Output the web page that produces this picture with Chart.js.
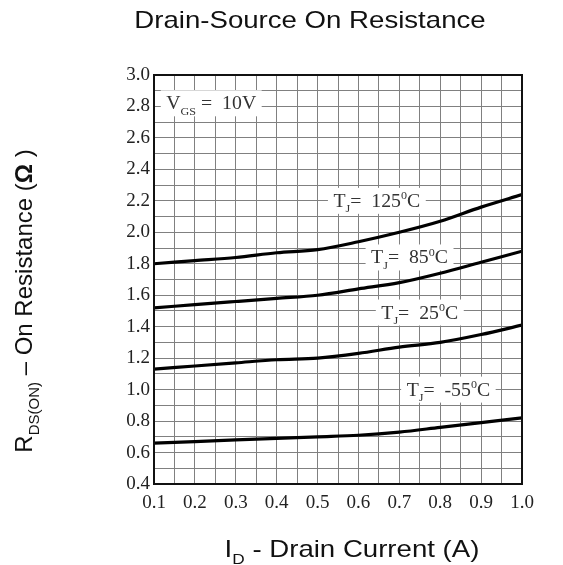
<!DOCTYPE html>
<html>
<head>
<meta charset="utf-8">
<script src="https://cdn.jsdelivr.net/npm/chart.js@4.4.0/dist/chart.umd.min.js"></script>
<style>
    html, body { margin: 0; padding: 0; background: #fff; }
</style>
</head>
<body>
<canvas id="chart" width="563" height="565"></canvas>
<script>
// Drain current (A)
const currents = [0.1, 0.2, 0.3, 0.4, 0.5, 0.6, 0.7, 0.8, 0.9, 1.0];

// On resistance (ohm) for each junction temperature
const rMinus55 = [0.66, 0.67, 0.68, 0.69, 0.70, 0.71, 0.73, 0.76, 0.79, 0.82];
const r25 = [1.13, 1.15, 1.17, 1.19, 1.20, 1.23, 1.27, 1.30, 1.35, 1.41];
const r85 = [1.52, 1.54, 1.56, 1.58, 1.60, 1.64, 1.68, 1.74, 1.81, 1.88];
const r125 = [1.80, 1.82, 1.84, 1.87, 1.89, 1.94, 2.00, 2.07, 2.16, 2.24];

// Tick labels
const xTickLabels = ['0.1', '0.2', '0.3', '0.4', '0.5', '0.6', '0.7', '0.8', '0.9', '1.0'];
const yTickLabels = ['0.4', '0.6', '0.8', '1.0', '1.2', '1.4', '1.6', '1.8', '2.0', '2.2', '2.4', '2.6', '2.8', '3.0'];

// Curve labels (s: -1 subscript, 1 superscript)
const noteParts = [
    [{t: 'V'}, {t: 'GS', s: -1}, {t: ' =  10V'}],
    [{t: 'T'}, {t: 'J', s: -1}, {t: '=  125'}, {t: '0', s: 1}, {t: 'C'}],
    [{t: 'T'}, {t: 'J', s: -1}, {t: '=  85'}, {t: '0', s: 1}, {t: 'C'}],
    [{t: 'T'}, {t: 'J', s: -1}, {t: '=  25'}, {t: '0', s: 1}, {t: 'C'}],
    [{t: 'T'}, {t: 'J', s: -1}, {t: '=  -55'}, {t: '0', s: 1}, {t: 'C'}]
];
// where each label sits, in axis units
const noteX = [0.24, 0.645, 0.725, 0.75, 0.82];
const noteY = [2.82, 2.20, 1.84, 1.49, 1.00];

const serif = '"Liberation Serif", "Times New Roman", serif';
const sans = '"Liberation Sans", Arial, sans-serif';

function richWidth(ctx, parts, size, family) {
    let w = 0;
    parts.forEach(p => {
        const fs = p.s ? Math.round(size * 0.62) : size;
        ctx.font = (p.b ? 'bold ' : '') + fs + 'px ' + family;
        w += ctx.measureText(p.t).width;
    });
    return w;
}

function drawRich(ctx, parts, x, y, size, family) {
    ctx.textBaseline = 'alphabetic';
    ctx.textAlign = 'left';
    parts.forEach(p => {
        const fs = p.s ? Math.round(size * 0.62) : size;
        ctx.font = (p.b ? 'bold ' : '') + fs + 'px ' + family;
        const dy = p.s === -1 ? size * 0.3 : p.s === 1 ? -size * 0.42 : 0;
        ctx.fillText(p.t, x, y + dy);
        x += ctx.measureText(p.t).width;
    });
}

const overlay = {
    id: 'overlay',
    beforeDatasetsDraw(chart) {
        const {ctx, scales: {x, y}} = chart;
        noteParts.forEach((parts, i) => {
            const cx = x.getPixelForValue(noteX[i]);
            const cy = y.getPixelForValue(noteY[i]);
            ctx.save();
            ctx.translate(cx, cy);
            ctx.scale(1.1, 1);
            const w = richWidth(ctx, parts, 18, serif);
            ctx.fillStyle = '#fff';
            ctx.fillRect(-w / 2 - 5, -13, w + 10, 26);
            ctx.fillStyle = '#333';
            drawRich(ctx, parts, -w / 2, 6, 18, serif);
            ctx.restore();
        });
    },
    afterDraw(chart) {
        const {ctx, chartArea: a} = chart;
        ctx.save();
        // frame
        ctx.strokeStyle = '#111';
        ctx.lineWidth = 2;
        ctx.strokeRect(a.left, a.top, a.right - a.left, a.bottom - a.top);

        ctx.fillStyle = '#111';
        // title
        ctx.save();
        ctx.translate(310, 28);
        ctx.scale(1.15, 1);
        ctx.font = '24px ' + sans;
        ctx.textAlign = 'center';
        ctx.textBaseline = 'alphabetic';
        ctx.fillText('Drain-Source On Resistance', 0, 0);
        ctx.restore();

        // x axis title
        const xParts = [{t: 'I'}, {t: 'D', s: -1}, {t: ' - Drain Current (A)'}];
        ctx.save();
        ctx.translate(352, 557);
        ctx.scale(1.15, 1);
        const xw = richWidth(ctx, xParts, 24, sans);
        drawRich(ctx, xParts, -xw / 2, 0, 24, sans);
        ctx.restore();

        // y axis title
        const yParts = [{t: 'R'}, {t: 'DS(ON)', s: -1}, {t: ' \u2013 On Resistance ('}, {t: '\u03A9', b: true}, {t: ' )'}];
        ctx.save();
        ctx.translate(32, 301);
        ctx.rotate(-Math.PI / 2);
        const yw = richWidth(ctx, yParts, 24, sans);
        drawRich(ctx, yParts, -yw / 2, 0, 24, sans);
        ctx.restore();

        ctx.restore();
    }
};

function makeSet(label, data) {
    return {
        label: label,
        data: currents.map((c, i) => ({x: c, y: data[i]})),
        borderColor: '#000',
        borderWidth: 3.2,
        pointRadius: 0,
        fill: false,
        cubicInterpolationMode: 'monotone'
    };
}

new Chart(document.getElementById('chart'), {
    type: 'line',
    data: {
        datasets: [
            makeSet('TJ = 125°C', r125),
            makeSet('TJ = 85°C', r85),
            makeSet('TJ = 25°C', r25),
            makeSet('TJ = -55°C', rMinus55)
        ]
    },
    options: {
        responsive: false,
        animation: false,
        layout: {padding: {left: 0, right: 41, top: 75, bottom: 0}},
        plugins: {
            legend: {display: false},
            tooltip: {enabled: false}
        },
        scales: {
            x: {
                type: 'linear',
                min: 0.1,
                max: 1.0,
                afterBuildTicks: scale => {
                    scale.ticks = [];
                    for (let k = 2; k <= 20; k++) scale.ticks.push({value: k * 0.05});
                },
                afterFit: scale => { scale.height = 81; },
                grid: {color: '#808080', lineWidth: 1, drawTicks: false},
                border: {color: '#111', width: 2},
                ticks: {
                    autoSkip: false,
                    maxRotation: 0,
                    padding: 8,
                    color: '#222',
                    font: {family: serif, size: 19},
                    callback: v => {
                        const n = Math.round(v * 100);
                        return n % 10 === 0 ? xTickLabels[n / 10 - 1] : '';
                    }
                }
            },
            y: {
                min: 0.4,
                max: 3.0,
                afterBuildTicks: scale => {
                    scale.ticks = [];
                    for (let k = 4; k <= 30; k++) scale.ticks.push({value: k / 10});
                },
                afterFit: scale => { scale.width = 154; },
                grid: {color: '#808080', lineWidth: 1, drawTicks: false},
                border: {color: '#111', width: 2},
                ticks: {
                    autoSkip: false,
                    padding: 4,
                    color: '#222',
                    font: {family: serif, size: 19},
                    callback: v => {
                        const n = Math.round(v * 10);
                        return n % 2 === 0 ? yTickLabels[(n - 4) / 2] : '';
                    }
                }
            }
        }
    },
    plugins: [overlay]
});
</script>
</body>
</html>
